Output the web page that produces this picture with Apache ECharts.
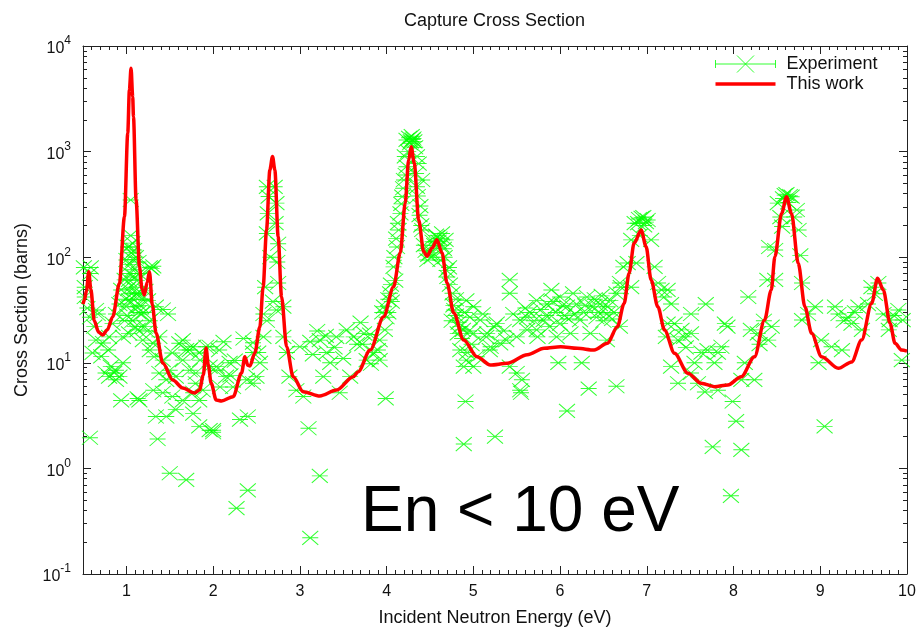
<!DOCTYPE html>
<html>
<head>
<meta charset="utf-8">
<script src="https://cdn.jsdelivr.net/npm/echarts@6/dist/echarts.min.js"></script>
<style>
  html, body { margin: 0; padding: 0; background: #ffffff; }
  #chart { width: 916px; height: 628px; }
</style>
</head>
<body>
<div id="chart"></div>
<script>
// Measured capture cross section (eV, barns)
const expEnergy = [
  0.51,0.52,0.52,0.55,0.58,0.58,0.58,0.59,0.61,0.63,0.65,0.65,0.67,0.71,0.73,0.76,0.79,0.80,0.80,0.82,
  0.84,0.86,0.88,0.88,0.88,0.92,0.92,0.94,0.94,0.96,0.96,0.98,0.98,
  1.00,1.00,1.01,1.02,1.03,1.03,1.03,1.03,1.04,1.05,1.05,1.06,1.07,1.07,1.07,1.08,1.09,1.09,1.10,1.11,1.11,
  1.12,1.13,1.13,1.13,1.14,1.15,1.15,1.17,1.18,1.19,1.21,1.25,1.27,1.27,1.27,1.29,1.31,1.31,1.31,1.32,1.34,
  1.34,1.36,1.38,1.38,1.42,1.42,1.42,1.46,1.46,1.48,1.50,1.50,1.53,1.53,1.57,1.57,1.61,1.65,1.65,1.65,1.69,
  1.69,1.73,1.73,1.77,1.77,1.77,1.80,1.80,1.84,1.84,1.84,1.85,1.88,1.92,1.96,1.96,1.96,2.00,2.00,2.03,2.04,
  2.07,2.08,2.12,2.15,2.19,2.20,2.23,2.25,2.27,2.31,2.35,2.39,2.40,2.40,2.46,2.46,2.46,2.50,2.52,2.54,2.58,
  2.58,2.60,2.62,2.62,2.62,2.64,2.69,2.71,2.73,2.73,2.75,2.75,2.81,2.81,2.85,2.88,
  2.96,3.00,3.04,3.10,3.12,3.12,3.15,3.20,3.23,3.23,3.27,3.30,3.31,3.35,3.40,3.42,3.46,3.50,3.54,3.58,3.62,
  3.66,3.70,3.72,3.74,3.77,3.81,3.82,3.85,3.90,3.92,3.92,3.95,3.97,3.98,3.99,
  4.00,4.02,4.04,4.06,4.08,4.10,4.12,4.14,4.16,4.18,4.20,4.21,4.23,4.23,4.25,4.27,4.29,4.31,4.33,4.35,4.35,
  4.37,4.39,4.41,4.41,4.47,4.50,4.52,4.55,4.58,4.60,4.62,4.64,4.66,4.68,4.70,4.72,4.75,4.76,4.78,4.80,4.82,
  4.85,4.85,4.88,4.89,4.89,4.90,4.91,4.92,4.92,4.93,4.96,
  5.00,5.00,5.00,5.04,5.08,5.11,5.15,5.16,5.19,5.20,5.24,5.25,5.27,5.31,5.35,5.38,5.42,5.42,5.42,5.46,5.50,
  5.50,5.54,5.54,5.55,5.56,5.62,5.62,5.65,5.73,5.73,5.74,5.78,5.81,5.85,5.88,5.90,5.95,5.96,5.98,6.00,6.00,
  6.05,6.08,6.08,6.10,6.12,6.15,6.19,6.23,6.25,6.27,6.31,6.33,6.35,6.38,6.40,6.42,6.46,6.50,6.54,6.54,6.55,
  6.58,6.62,6.65,6.65,6.69,6.69,6.70,6.73,6.78,6.82,6.82,6.86,6.88,6.90,6.92,6.94,6.97,
  7.01,7.05,7.09,7.13,7.17,7.20,7.22,7.24,7.24,7.28,7.28,7.32,7.36,7.36,7.40,7.43,7.45,7.51,7.51,7.51,7.55,
  7.59,7.63,7.67,7.68,7.70,7.76,7.78,7.82,7.82,7.86,7.90,7.93,7.97,7.99,8.03,8.09,8.09,8.13,8.17,8.20,8.24,
  8.28,8.30,8.35,8.39,8.40,8.41,8.44,
  8.48,8.48,8.51,8.56,8.59,8.63,8.67,8.73,8.75,8.77,8.79,8.79,8.86,8.94,8.98,9.01,9.05,9.13,9.17,9.21,9.25,
  9.27,9.32,9.36,9.40,9.44,9.48,9.55,9.59,9.63,9.67,9.73,9.79,9.80,9.85,9.90,9.94,9.95,
  1.04,1.06,1.08,1.10,1.12,1.16,1.20,1.22,1.24,1.02,0.99,1.14,2.63,2.66,2.72,2.74,
  4.02,4.05,4.09,4.11,4.13,4.17,4.19,4.22,4.26,4.28,4.30,4.32,4.34,4.36,4.38,4.40,4.43,4.45,4.48,4.53,
  4.57,4.61,4.63,4.67,4.69,4.73,4.77,4.80,4.83,4.87,4.95,4.98,
  5.60,5.70,5.84,5.92,6.03,6.17,6.29,6.44,6.48,6.60,6.91,6.96,6.99,8.54,8.57,8.61,8.65,8.70
];
const expSigma = [
  80,52,42,33,27,70,1.95,80,12.4,22,16.4,31.6,29,11.5,15.4,8,13.2,17.6,7.4,9.2,
  23.5,8,6.9,29,8.5,36,7.4,49,4.4,10,17.6,61,25,
  94,34,28,125,125,61,39,19,85,348,160,45,136,76,25,95,117,52,22,100,34,
  60,46,20.5,4.6,30,70,4.4,29,40,16.4,22,39,80,25,13.2,78,82,15.3,5.5,11.4,34,
  3.1,1.9,17.6,8,32,10.6,5.2,6.9,3.1,29,8.5,0.9,12.4,4.8,7.4,3.6,15.3,10.6,4.4,16.4,13.2,
  0.78,8.5,13.2,14.2,5.2,3.3,8,6.4,12.4,4.4,2.5,10.6,5.5,14.2,9.2,14.2,2.3,2.2,2.3,8.5,9.2,
  13.2,5.9,15.8,7.4,10,7.6,5.9,10.5,0.42,2.9,17,6.9,3.1,0.62,15.5,6.4,12.5,7.4,12.5,10,17.6,
  29,52,25,464,168,375,38,464,31.6,325,134,57,34,17.6,12.5,7.4,
  5.5,14.2,4.8,2.4,15.8,0.22,12,20,16.4,0.85,7.4,18,12.5,10,14,17.6,5.2,11,20.5,7.4,17.6,
  15,24,15,19,10.6,18.5,9.8,12.5,13.2,10.6,16.4,30,34,20.5,4.6,
  27,30,45.5,38,81,60,125,181,260,375,538,900,720,1290,1000,1200,1400,1330,1100,464,900,
  770,305,538,181,94,110,100,130,155,140,94,168,120,146,65,80,25,45.5,31.6,40,19,
  13.2,22,20.5,9.2,1.7,30,4.3,39,10.6,12.5,27,
  34,19,9.2,11.4,25.4,29,17.6,19,13.2,14.2,22,2.0,23.5,15.3,20,16.4,61,45.5,9.2,29,17.6,
  8,25.4,5.5,5.2,6.9,27,20.5,30,39,20.5,17.6,32,25.4,36,22,49,30,17.6,10,42,23.5,
  28,34,3.5,26,19,45.5,36,25.4,10,30,42,5.7,19,34,40,27,36,25,29,16.4,34,
  39,30,45.5,6,57,22,52,81,88,52,146,210,88,210,160,236,200,
  225,146,81,57,49,42,17.6,49,23.5,36,9.2,23.5,16.4,6.4,20.5,17.6,14,29,19,8,10,
  6.4,12.5,5.3,36,13.2,1.6,10,12.5,5.5,14.2,23.5,22,0.55,4.3,2.8,6.9,1.5,10,42,20.5,6.9,
  19,15,25,61,16.4,125,22,
  117,61,325,195,387,330,374,280,181,104,57,25.4,29,34,10,16.4,2.5,14.2,34,29,13.2,
  25,27,23.5,30,34,20.5,36,52,45,57,29,20.5,25.4,28,31.6,10.6,25.4,
  70,110,40,65,45,35,30,48,20,50,40,90,260,100,210,90,
  40,55,100,150,210,320,450,600,1350,1250,1300,1250,620,380,250,200,130,115,105,140,
  160,150,130,100,75,55,35,28,24,17,20,15,
  33,25,28,38,35,29,35,30,43,26,230,240,215,240,360,395,380,240
];

// Resonance fit (eV, barns)
const fitEnergy = [
  0.50,0.516,0.54,0.566,0.59,0.63,0.68,0.727,0.78,0.843,0.92,0.978,1.016,1.035,1.054,1.073,1.082,1.112,1.151,1.18,
  1.208,1.24,1.266,1.30,1.342,1.42,1.535,1.65,1.785,1.843,1.887,1.919,1.945,1.977,2.035,2.097,2.231,2.328,2.366,2.40,
  2.424,2.481,2.539,2.577,2.616,2.654,2.685,2.712,2.75,2.789,2.847,2.923,3.038,3.231,3.424,3.615,3.67,3.811,3.966,4.081,
  4.158,4.215,4.254,4.284,4.319,4.370,4.428,4.466,4.524,4.581,4.639,4.697,4.774,4.889,5.043,5.196,5.392,5.623,5.816,6.008,
  6.20,6.393,6.546,6.661,6.739,6.796,6.854,6.935,6.992,7.050,7.127,7.204,7.319,7.474,7.627,7.781,7.935,8.089,8.242,8.358,
  8.435,8.477,8.554,8.611,8.668,8.746,8.823,8.90,9.015,9.208,9.362,9.477,9.592,9.661,9.727,9.804,9.862,9.938,10.0
];
const fitSigma = [
  36,39.4,48,72.9,50,25,19.5,18.3,20.5,27.3,56.6,242,1500,3830,6150,3300,2140,348,81.3,50,
  43.9,58,72.9,35,19.2,9.95,6.87,5.77,5.18,5.52,7.65,13.8,9.5,6.44,4.45,4.35,4.78,8.0,11.4,9.5,
  9.33,12.4,21.8,52.6,181,670,900,670,156,42.3,14.2,7.38,5.33,4.85,5.52,7.38,8.18,13.2,27.3,52.6,
  110,326,832,1110,780,225,113,102,122,146,110,57,29.7,16.4,11.4,9.53,9.89,11.9,13.7,14.2,
  13.7,13.2,15.3,22,36.5,70.5,136,181,126,60.8,34,20.5,12.3,7.96,6.4,5.94,6.17,7.38,11.4,25.4,
  48.9,101,260,374,260,87.5,34,19,11.4,8.87,10.2,16.4,36.5,63.1,48.9,23.7,15.3,13.2,12.9
];

// Axis ticks
const xMajorTicks = [1, 2, 3, 4, 5, 6, 7, 8, 9, 10];
const yDecadeTicks = [0.1, 1, 10, 100, 1000, 10000];
const yMinorTicks = [
  0.2,0.3,0.4,0.5,0.6,0.7,0.8,0.9,
  2,3,4,5,6,7,8,9,
  20,30,40,50,60,70,80,90,
  200,300,400,500,600,700,800,900,
  2000,3000,4000,5000,6000,7000,8000,9000
];

const FONT = 'Liberation Sans, Arial, Helvetica, sans-serif';
const INK = '#111111';
const FRAME = { color: '#222222', width: 1 };
const GREEN = '#00ff00';
const RED = '#ff0000';

const expPoints = expEnergy.map((e, i) => [e, expSigma[i]]);
const fitPoints = fitEnergy.map((e, i) => [e, fitSigma[i]]);

// Minor-tick axes carry the frame line; major-tick axes carry the long ticks and labels
function xAxisDef(position, major, extra) {
  return Object.assign({
    type: 'value', min: 0.5, max: 10, position: position,
    axisLine: { show: !major, onZero: false, lineStyle: FRAME },
    axisTick: major
      ? { show: true, inside: true, length: 8, customValues: xMajorTicks, lineStyle: FRAME }
      : { show: true, inside: true, length: 4, lineStyle: FRAME },
    axisLabel: { show: false },
    splitLine: { show: false }
  }, major ? {} : { interval: 0.1 }, extra || {});
}

function yAxisDef(position, major, extra) {
  return Object.assign({
    type: 'log', logBase: 10, min: 0.1, max: 10000, position: position,
    axisLine: { show: major, onZero: false, lineStyle: FRAME },
    axisTick: { show: true, inside: true, length: major ? 8 : 4,
                customValues: major ? yDecadeTicks : yMinorTicks, lineStyle: FRAME },
    axisLabel: { show: false },
    splitLine: { show: false },
    minorTick: { show: false }
  }, extra || {});
}

const chart = echarts.init(document.getElementById('chart'), null, { renderer: 'canvas' });

chart.setOption({
  animation: false,
  backgroundColor: '#ffffff',
  title: {
    text: 'Capture Cross Section',
    left: 399, top: 7,
    textStyle: { fontFamily: FONT, fontSize: 18, fontWeight: 'normal', color: INK }
  },
  legend: {
    orient: 'vertical',
    left: 710, top: 50,
    itemWidth: 60, itemHeight: 17, itemGap: 2,
    textStyle: { fontFamily: FONT, fontSize: 18, color: INK, padding: [0, 0, 0, 6] },
    data: [
      {
        name: 'Experiment',
        icon: 'path://M0,4.5V12.5M0,8.5H60M60,4.5V12.5M21.5,0L38.5,17M38.5,0L21.5,17',
        itemStyle: { color: 'rgba(0,0,0,0)', borderColor: GREEN, borderWidth: 1 }
      },
      {
        name: 'This work',
        icon: 'path://M0,0H60V3.6H0Z',
        itemStyle: { color: RED, borderWidth: 0 }
      }
    ]
  },
  grid: {
    left: 83, right: 9, top: 46, bottom: 54,
    containLabel: false, outerBoundsMode: 'none'
  },
  xAxis: [
    xAxisDef('bottom', false),
    xAxisDef('bottom', true, {
      name: 'Incident Neutron Energy (eV)',
      nameLocation: 'middle', nameGap: 35,
      nameTextStyle: { fontFamily: FONT, fontSize: 18, color: INK },
      axisLabel: { show: true, customValues: xMajorTicks, margin: 10,
                   fontFamily: FONT, fontSize: 16, color: INK }
    }),
    xAxisDef('top', false),
    xAxisDef('top', true)
  ],
  yAxis: [
    yAxisDef('left', true, {
      name: 'Cross Section (barns)',
      nameLocation: 'middle', nameGap: 52,
      nameTextStyle: { fontFamily: FONT, fontSize: 18, color: INK },
      axisLabel: {
        show: true, customValues: yDecadeTicks, margin: 12,
        formatter: function (v) {
          const p = Math.round(Math.log10(v));
          return '{b|10}{s|' + p + '}';
        },
        rich: {
          b: { fontFamily: FONT, fontSize: 16, color: INK, lineHeight: 22, verticalAlign: 'bottom' },
          s: { fontFamily: FONT, fontSize: 12, color: INK, lineHeight: 12, verticalAlign: 'top' }
        }
      }
    }),
    yAxisDef('left', false),
    yAxisDef('right', true),
    yAxisDef('right', false)
  ],
  graphic: [
    {
      type: 'text', x: 361, y: 513, z: 100,
      style: {
        text: 'En < 10 eV', fill: '#000000',
        fontFamily: FONT, fontSize: 64,
        align: 'left', verticalAlign: 'middle'
      }
    }
  ],
  series: [
    {
      name: 'Experiment',
      type: 'scatter',
      xAxisIndex: 0, yAxisIndex: 0,
      data: expPoints,
      symbol: 'path://M0,0L16,14M16,0L0,14M0,7L16,7',
      symbolSize: [16, 14],
      itemStyle: { color: 'rgba(0,0,0,0)', borderColor: GREEN, borderWidth: 1 },
      emphasis: { disabled: true },
      z: 2
    },
    {
      name: 'This work',
      type: 'line',
      xAxisIndex: 0, yAxisIndex: 0,
      data: fitPoints,
      symbol: 'none',
      smooth: 0.3,
      smoothMonotone: 'x',
      lineStyle: { color: RED, width: 3.5 },
      itemStyle: { color: RED },
      emphasis: { disabled: true },
      z: 3
    }
  ]
});
</script>
</body>
</html>
